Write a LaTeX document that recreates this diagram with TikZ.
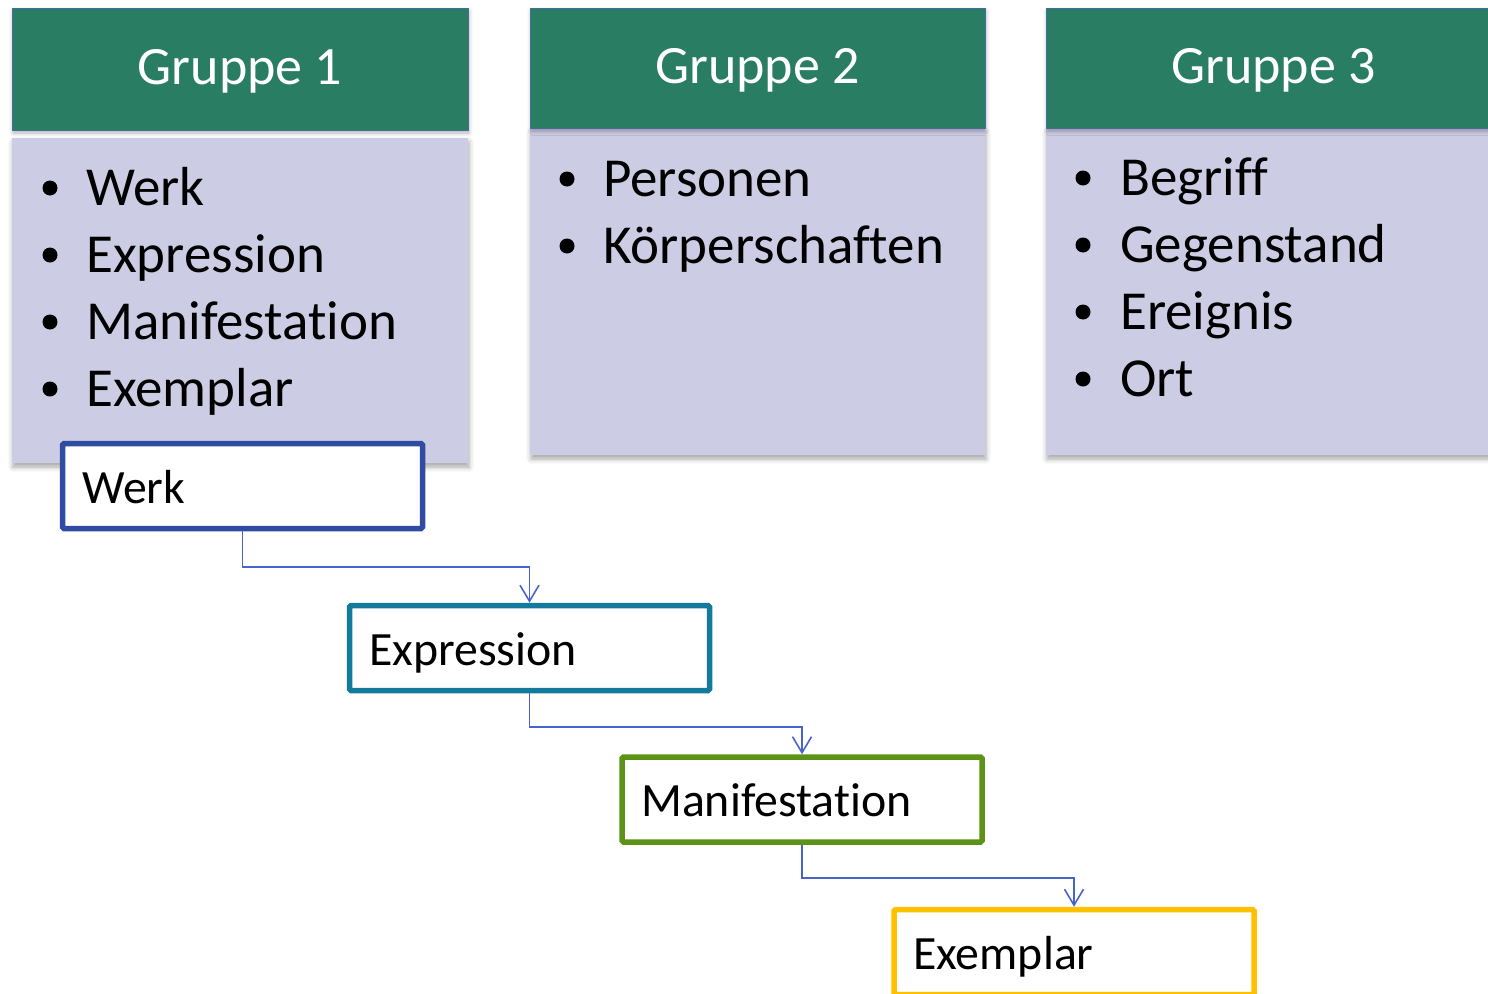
\documentclass[tikz,border=0pt]{standalone}
\usepackage{fontspec}
\setmainfont[Ligatures=NoCommon]{Carlito}
\usetikzlibrary{arrows.meta,shadows.blur}

\definecolor{headgreen}{RGB}{41,125,99}
\definecolor{headedge}{RGB}{72,108,160}
\definecolor{bodylav}{RGB}{204,205,228}
\definecolor{werkblue}{RGB}{47,76,162}
\definecolor{exprteal}{RGB}{20,122,155}
\definecolor{manigreen}{RGB}{92,146,22}
\definecolor{exemgold}{RGB}{255,192,0}
\definecolor{linkblue}{RGB}{72,100,204}

\begin{document}
\begin{tikzpicture}[x=1pt,y=-1pt,
  header/.style={fill=headgreen, draw=headedge, line width=0.8pt, text=white,
    font=\fontsize{54}{60}\selectfont, inner sep=0pt, text height=40pt, text depth=10pt,
    blur shadow={shadow xshift=1pt, shadow yshift=-3pt, shadow blur radius=4pt, shadow opacity=30}},
  listbody/.style={fill=bodylav, inner sep=0pt,
    blur shadow={shadow xshift=1pt, shadow yshift=-4pt, shadow blur radius=5pt, shadow opacity=35}},
  item/.style={anchor=base west, inner sep=0pt, font=\fontsize{55}{60}\selectfont},
  dot/.style={circle, fill=black, inner sep=0pt, minimum size=15pt},
  entity/.style={fill=white, line width=5.5pt, rounded corners=1.5pt, inner sep=0pt,
    minimum width=360pt, minimum height=85pt},
  entitytext/.style={anchor=base west, inner sep=0pt, font=\fontsize{47.8}{52}\selectfont},
  link/.style={draw=linkblue, line width=1.6pt,
    -{Straight Barb[length=16pt,width=19pt,line width=1.6pt]}},
]
\useasboundingbox (0,0) rectangle (1488,993);
\clip (0,0) rectangle (1488,993);

% list panels
\node[listbody, minimum width=456pt, minimum height=325pt] (b1) at (240,300.5) {};
\node[listbody, minimum width=455pt, minimum height=327pt] (b2) at (757.5,291.5) {};
\node[listbody, minimum width=455pt, minimum height=327pt] (b3) at (1273.5,291.5) {};

% group headers
\node[header, minimum width=456pt, minimum height=122pt] (h1) at (240,69) {Gruppe 1};
\node[header, minimum width=455pt, minimum height=120pt] (h2) at (757.5,68) {Gruppe 2};
\node[header, minimum width=455pt, minimum height=120pt] (h3) at (1273.5,68) {Gruppe 3};

% group 1 items
\node[dot] (d11) at (50,188) {};
\node[item] (i11) at (86,205) {Werk};
\node[dot] (d12) at (50,255) {};
\node[item] (i12) at (86,272) {Expression};
\node[dot] (d13) at (50,322) {};
\node[item] (i13) at (86,339) {Manifestation};
\node[dot] (d14) at (50,389) {};
\node[item] (i14) at (86,406) {Exemplar};

% group 2 items
\node[dot] (d21) at (567,179) {};
\node[item] (i21) at (603,196) {Personen};
\node[dot] (d22) at (567,246) {};
\node[item] (i22) at (603,263) {Körperschaften};

% group 3 items
\node[dot] (d31) at (1083,178) {};
\node[item] (i31) at (1120,195) {Begriff};
\node[dot] (d32) at (1083,245) {};
\node[item] (i32) at (1120,262) {Gegenstand};
\node[dot] (d33) at (1083,312) {};
\node[item] (i33) at (1120,329) {Ereignis};
\node[dot] (d34) at (1083,379) {};
\node[item] (i34) at (1120,396) {Ort};

% entity chain
\node[entity, draw=werkblue] (werk) at (242.5,486) {};
\node[entitytext] (werkt) at (82,503) {Werk};
\node[entity, draw=exprteal] (expr) at (529.5,648) {};
\node[entitytext] (exprt) at (369,665) {Expression};
\node[entity, draw=manigreen] (mani) at (802,799.5) {};
\node[entitytext] (manit) at (641,816) {Manifestation};
\node[entity, draw=exemgold] (exem) at (1074,952) {};
\node[entitytext] (exemt) at (913,969) {Exemplar};

% connectors
\draw[link] (werk.south) -- ++(0,36) -| (expr.north);
\draw[link] (expr.south) -- ++(0,33.5) -| (mani.north);
\draw[link] (mani.south) -- ++(0,33) -| (exem.north);
\end{tikzpicture}
\end{document}
